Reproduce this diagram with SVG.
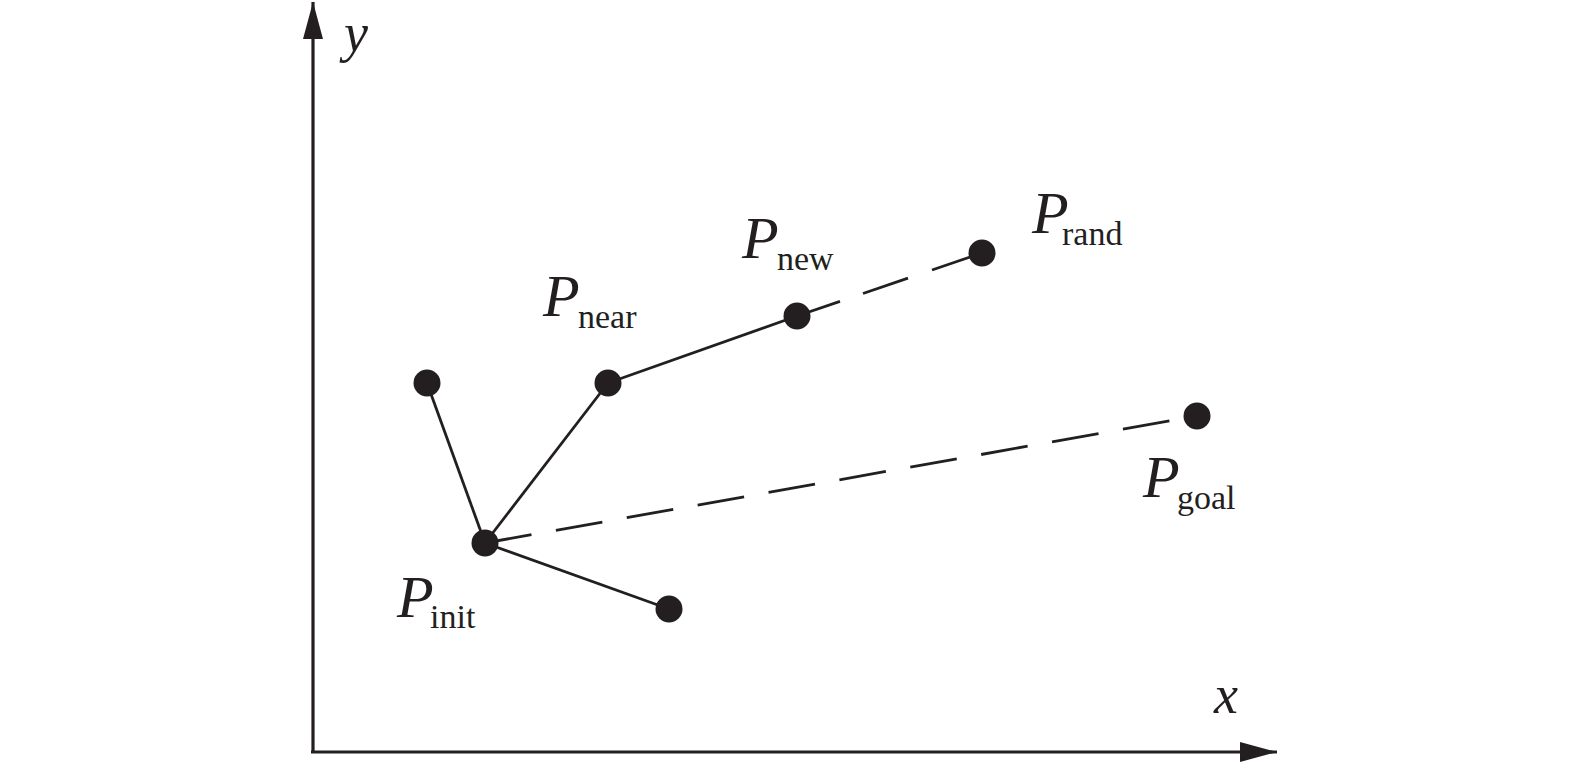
<svg xmlns="http://www.w3.org/2000/svg" width="1575" height="771" viewBox="0 0 1575 771">
<style>
.ax{stroke:#231f20;stroke-width:3.2;fill:none}
.e{stroke:#231f20;stroke-width:2.8;fill:none}
.d{stroke:#231f20;stroke-width:2.8;fill:none;stroke-dasharray:47.2 24.8}
.n{fill:#231f20}
.m{font-family:"Liberation Serif",serif;font-style:italic;font-size:60px;fill:#231f20}
.a{font-family:"Liberation Serif",serif;font-style:italic;font-size:54px;fill:#231f20}
.s{font-family:"Liberation Serif",serif;font-size:34px;fill:#231f20}
</style>
<defs>
<marker id="ah" viewBox="0 0 10 10" refX="10" refY="5" markerWidth="37" markerHeight="20" markerUnits="userSpaceOnUse" orient="auto" preserveAspectRatio="none">
<path d="M0,0 L10,5 L0,10 Z" fill="#231f20"/>
</marker>
</defs>
<g id="axes">
<line class="ax" x1="313" y1="752" x2="313" y2="2" marker-end="url(#ah)"/>
<line class="ax" x1="311" y1="752" x2="1277" y2="752" marker-end="url(#ah)"/>
<text class="a" x="344" y="51">y</text>
<text class="a" x="1214" y="713">x</text>
</g>
<g id="connectors">
<line class="e" x1="485" y1="543" x2="427" y2="383"/>
<line class="e" x1="485" y1="543" x2="608" y2="383"/>
<line class="e" x1="485" y1="543" x2="669" y2="609"/>
<line class="e" x1="608" y1="383" x2="797" y2="316"/>
<line class="e" x1="797" y1="316" x2="840" y2="301.4"/>
<line class="e" x1="863" y1="293.5" x2="908" y2="278.2"/>
<line class="e" x1="932" y1="270" x2="982" y2="253"/>
<path class="d" d="M485,543 L1197,416"/>
</g>
<g id="n-init"><circle class="n" cx="485" cy="543" r="13.5"/><text class="m" x="397" y="617">P</text><text class="s" x="430" y="628">init</text></g>
<g id="n-left"><circle class="n" cx="427" cy="383" r="13.5"/></g>
<g id="n-near"><circle class="n" cx="608" cy="383" r="13.5"/><text class="m" x="543" y="316">P</text><text class="s" x="578" y="328">near</text></g>
<g id="n-new"><circle class="n" cx="797" cy="316" r="13.5"/><text class="m" x="742" y="258">P</text><text class="s" x="777" y="270">new</text></g>
<g id="n-bottom"><circle class="n" cx="669" cy="609" r="13.5"/></g>
<g id="n-rand"><circle class="n" cx="982" cy="253" r="13.5"/><text class="m" x="1032" y="233">P</text><text class="s" x="1062" y="245">rand</text></g>
<g id="n-goal"><circle class="n" cx="1197" cy="416" r="13.5"/><text class="m" x="1143" y="497">P</text><text class="s" x="1177" y="509">goal</text></g>
</svg>
